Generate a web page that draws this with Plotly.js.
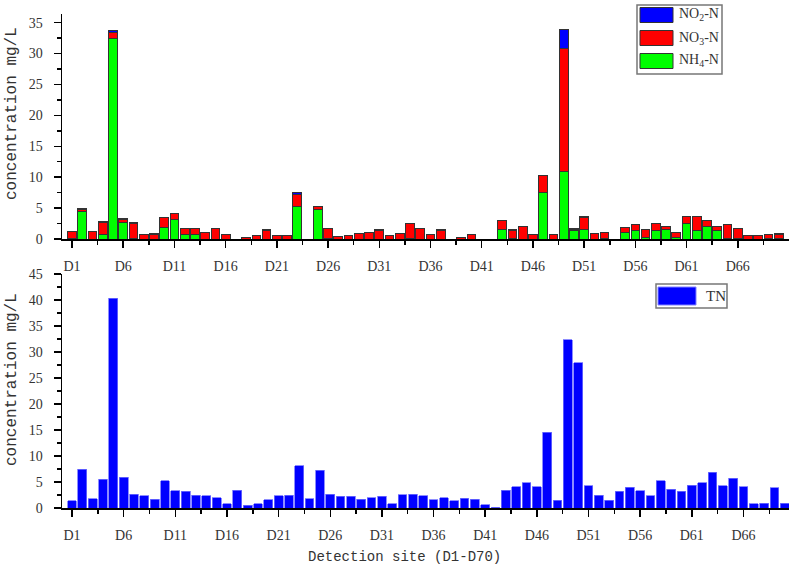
<!DOCTYPE html>
<html>
<head>
<meta charset="utf-8">
<script src="https://cdn.plot.ly/plotly-3.0.1.min.js"></script>
<style>html,body{margin:0;padding:0;background:#fff;}#chart{width:789px;height:571px;}</style>
</head>
<body>
<div id="chart"></div>
<script>
// ---------- data ----------
const sites = ['D1','D2','D3','D4','D5','D6','D7','D8','D9','D10',
  'D11','D12','D13','D14','D15','D16','D17','D18','D19','D20',
  'D21','D22','D23','D24','D25','D26','D27','D28','D29','D30',
  'D31','D32','D33','D34','D35','D36','D37','D38','D39','D40',
  'D41','D42','D43','D44','D45','D46','D47','D48','D49','D50',
  'D51','D52','D53','D54','D55','D56','D57','D58','D59','D60',
  'D61','D62','D63','D64','D65','D66','D67','D68','D69','D70'];

const nh4 = [0.05,4.45,0,0.75,32.4,2.7,0.1,0,0,1.85,
  3.15,0.65,0.65,0,0,0,0,0,0,0,
  0,0,5.25,0,4.85,0.1,0,0,0,0,
  0,0,0,0.15,0,0,0,0,0,0,
  0,0,1.6,0.1,0,0,7.55,0,10.9,1.35,
  1.5,0,0.1,0,1.1,1.35,0.3,1.35,1.5,0.3,
  2.5,1.35,2.0,1.3,0.1,0.05,0,0,0.1,0.1];

const no3 = [1.1,0.4,1.15,2.0,1.0,0.4,2.45,0.75,0.8,1.6,
  0.9,1.0,1.1,1.0,1.7,0.75,0,0.27,0.6,1.45,
  0.55,0.5,1.95,0,0.35,1.6,0.45,0.55,0.9,1.1,
  1.45,0.5,0.85,2.3,1.7,0.65,1.45,0,0.2,0.75,
  0,0,1.35,1.35,2.0,0.65,2.75,0.75,19.9,0.15,
  2.05,0.85,0.95,0,0.7,1.0,1.25,1.2,0.5,0.75,
  1.1,2.3,0.95,0.7,2.2,1.65,0.55,0.5,0.65,0.7];

const no2 = [0.03,0.05,0.02,0.15,0.4,0.15,0.05,0.02,0.02,0.03,
  0.03,0.02,0.02,0.02,0.03,0.02,0,0.02,0.02,0.02,
  0.02,0.02,0.4,0,0.1,0.03,0.02,0.02,0.02,0.02,
  0.03,0.02,0.02,0.03,0.02,0.02,0.02,0,0.02,0.02,
  0,0,0.03,0.02,0.03,0.02,0.05,0.02,3.1,0.25,
  0.03,0.02,0.02,0,0.02,0.03,0.02,0.03,0.02,0.02,
  0.03,0.03,0.03,0.02,0.03,0.02,0.02,0.02,0.02,0.02];

const tn = [1.41,7.44,1.79,5.51,40.3,5.9,2.69,2.31,1.67,5.26,
  3.33,3.21,2.5,2.37,1.99,0.83,3.4,0.51,0.83,1.54,
  2.31,2.44,8.08,1.79,7.24,2.69,2.24,2.24,1.67,1.99,
  2.24,0.83,2.56,2.69,2.31,1.54,1.99,1.41,1.92,1.73,
  0.58,0.13,3.46,4.04,4.81,4.04,14.55,1.47,32.4,27.9,
  4.29,2.5,1.47,3.21,3.97,3.33,2.31,5.26,3.59,3.21,
  4.36,4.81,6.92,4.29,5.77,4.04,0.83,0.96,3.85,0.96];

const tickLabels = ['D1','D6','D11','D16','D21','D26','D31','D36','D41','D46','D51','D56','D61','D66'];
const yTitle = 'concentration mg/L';
const xTitle = 'Detection site (D1-D70)';

// ---------- build ----------
const xs = sites.map((s, i) => i + 1);
const tickPos = tickLabels.map(l => sites.indexOf(l) + 1);
const minorPos = tickPos.map(v => v + 2.5).filter(v => v <= 70);

const W = 789, H = 571, ML = 62, MR = 0, MT = 14, MB = 63;
const PW = W - ML - MR, PH = H - MT - MB;
const px = x => (x - ML) / PW;
const py = y => (H - MB - y) / PH;

const topLine = {color: '#333333', width: 1};
const traces = [
  {type: 'bar', x: xs, y: nh4, name: 'NH4-N', marker: {color: '#00ff00', line: topLine}, xaxis: 'x', yaxis: 'y'},
  {type: 'bar', x: xs, y: no3, name: 'NO3-N', marker: {color: '#ff0000', line: topLine}, xaxis: 'x', yaxis: 'y'},
  {type: 'bar', x: xs, y: no2, name: 'NO2-N', marker: {color: '#0000ff', line: topLine}, xaxis: 'x', yaxis: 'y'},
  {type: 'bar', x: xs, y: tn, name: 'TN', marker: {color: '#0000ff', line: {color: '#7070ff', width: 0.8}}, xaxis: 'x2', yaxis: 'y2'}
];

function tickFont() { return {family: 'Liberation Serif', size: 14, color: '#333'}; }
function xAxis(range, anchor) {
  return {
    domain: [0, 1], anchor: anchor, range: range,
    tickmode: 'array', tickvals: tickPos, ticktext: tickLabels,
    ticks: 'outside', ticklen: 7, tickwidth: 1.5, tickcolor: '#000',
    minor: {tickmode: 'array', tickvals: minorPos, ticks: 'outside', ticklen: 4, tickwidth: 1.5, tickcolor: '#000'},
    showline: true, linecolor: '#000', linewidth: 1.5,
    showgrid: false, zeroline: false, tickfont: tickFont(), ticklabelstandoff: 7,
    fixedrange: true
  };
}
function yAxis(domain, range, anchor) {
  return {
    domain: domain, anchor: anchor, range: range,
    tickmode: 'linear', tick0: 0, dtick: 5,
    ticks: 'outside', ticklen: 7, tickwidth: 1.5, tickcolor: '#000',
    minor: {tick0: 0, dtick: 2.5, ticks: 'outside', ticklen: 4, tickwidth: 1.5, tickcolor: '#000'},
    showline: true, linecolor: '#000', linewidth: 1.5,
    showgrid: false, zeroline: false, tickfont: tickFont(), ticklabelstandoff: 8,
    fixedrange: true
  };
}

// legend drawn as shapes + text
const shapes = [];
const annotations = [];
function rect(x0, y0, x1, y1, fill, line) {
  shapes.push({type: 'rect', xref: 'paper', yref: 'paper', x0: px(x0), x1: px(x1), y0: py(y1), y1: py(y0),
    fillcolor: fill, line: line, layer: 'above'});
}
function label(x, y, text, font, opts) {
  annotations.push(Object.assign({xref: 'paper', yref: 'paper', x: px(x), y: py(y), text: text, showarrow: false,
    font: font, xanchor: 'left', yanchor: 'middle'}, opts || {}));
}
const legFont = {family: 'Liberation Serif', size: 14, color: '#333'};
rect(637, 5, 722, 74, '#ffffff', {color: '#777', width: 1.5});
const legItems = [
  {text: 'NO<sub>2</sub>-N', color: '#0000ff'},
  {text: 'NO<sub>3</sub>-N', color: '#ff0000'},
  {text: 'NH<sub>4</sub>-N', color: '#00ff00'}
];
legItems.forEach((it, i) => {
  const cy = 15 + i * 23;
  rect(640, cy - 7.5, 673, cy + 7.5, it.color, {color: '#333', width: 1});
  label(677, cy, it.text, legFont);
});
rect(656, 284, 727, 308, '#ffffff', {color: '#777', width: 1.5});
rect(658, 287, 696, 305, '#0000ff', {color: '#8080ff', width: 1});
label(704, 296, 'TN', {family: 'Liberation Serif', size: 15, color: '#333'});

const titleFont = {family: 'Liberation Mono', size: 16, color: '#333'};
label(12, 114, yTitle, titleFont, {textangle: -90, xanchor: 'center'});
label(12, 380, yTitle, titleFont, {textangle: -90, xanchor: 'center'});
label(404, 557, xTitle, {family: 'Liberation Mono', size: 14, color: '#333'}, {xanchor: 'center'});

const layout = {
  width: W, height: H,
  margin: {l: ML, r: MR, t: MT, b: MB, pad: 0},
  paper_bgcolor: '#fff', plot_bgcolor: '#fff',
  font: {family: 'Liberation Serif', color: '#333'},
  barmode: 'stack', bargap: 0.15,
  showlegend: false,
  xaxis: xAxis([0.023, 71.0], 'y'),
  yaxis: yAxis([(H - MB - 239) / PH, 1], [0, 36.4], 'x'),
  xaxis2: xAxis([0.03, 70.41], 'y2'),
  yaxis2: yAxis([0, (H - MB - 274) / PH], [0, 45], 'x2'),
  shapes: shapes,
  annotations: annotations
};

Plotly.newPlot('chart', traces, layout, {displayModeBar: false, staticPlot: true});
</script>
</body>
</html>
